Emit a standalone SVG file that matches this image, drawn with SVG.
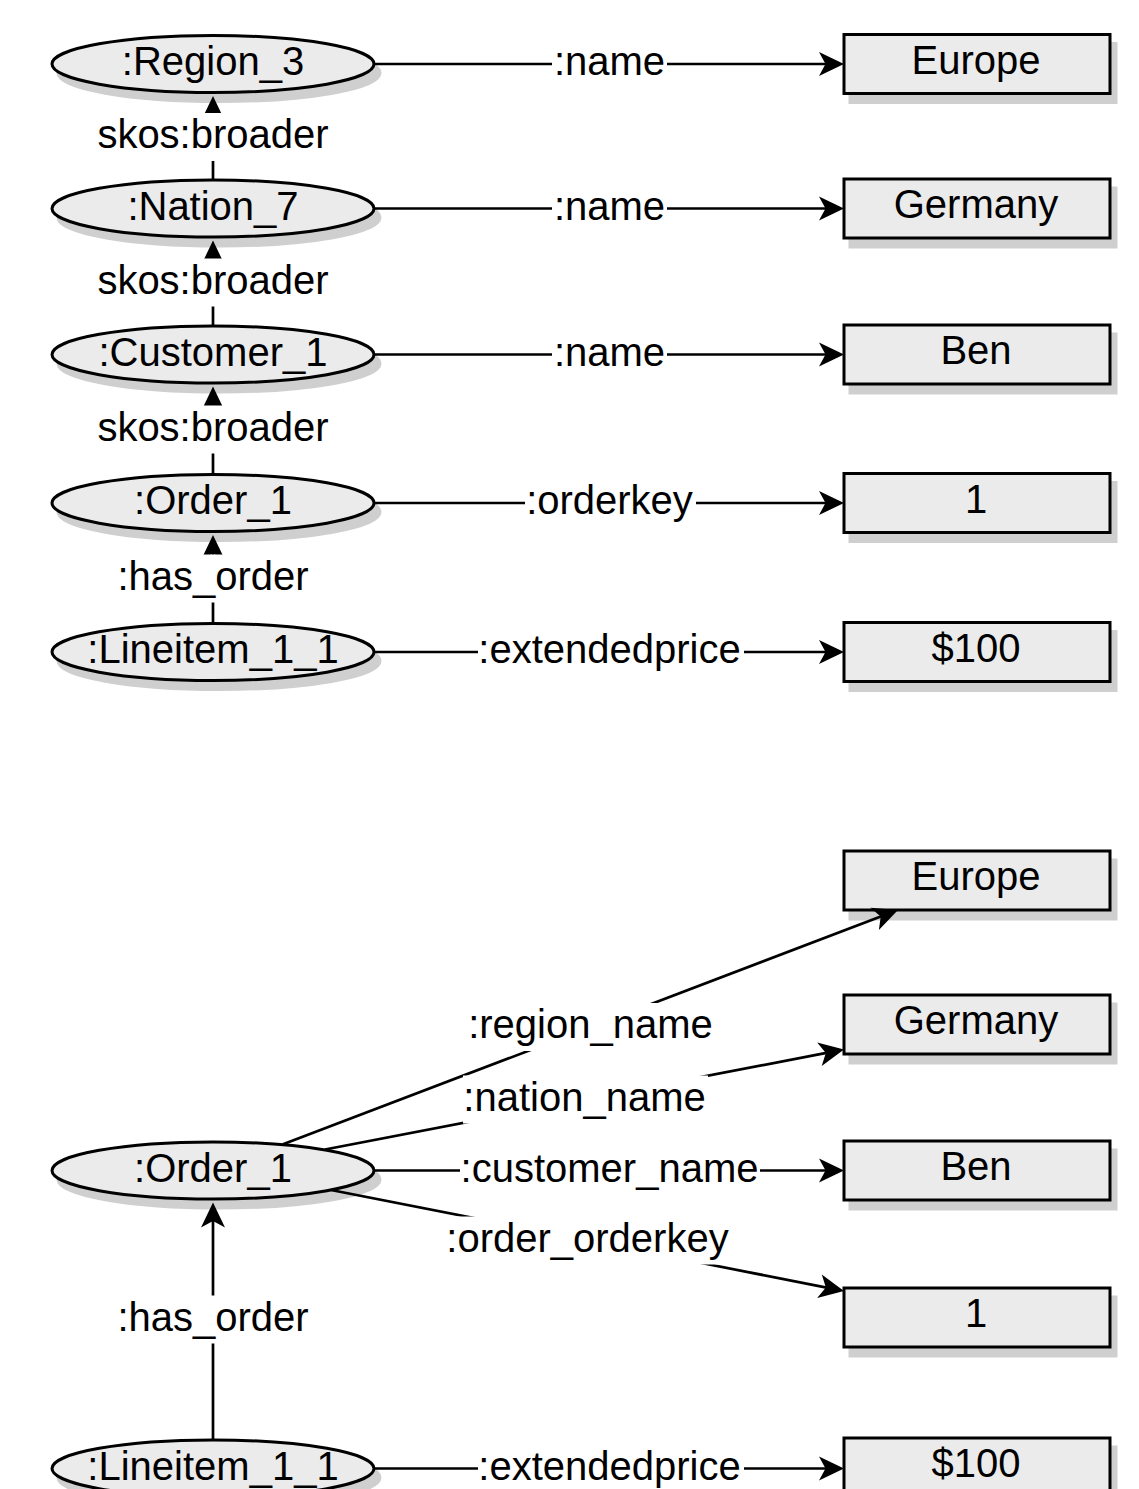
<svg xmlns="http://www.w3.org/2000/svg" width="1139" height="1489" viewBox="0 0 1139 1489">
<style>
text{font-family:"Liberation Sans",Arial,Helvetica,sans-serif;font-size:40px;fill:#000;text-anchor:middle}
.sh{fill:#cfcfcf;stroke:#cfcfcf;stroke-width:3}
.nd{fill:#ebebeb;stroke:#000;stroke-width:3}
.ed{fill:none;stroke:#000;stroke-width:2.7;marker-end:url(#arr)}
.bg{fill:#fff}
</style>
<defs>
<marker id="arr" viewBox="-28 -14 30 28" refX="-10" refY="0" markerWidth="30" markerHeight="28" markerUnits="userSpaceOnUse" orient="auto">
<path d="M0,0 L-25,-12 L-18.5,0 L-25,12 Z" fill="#000"/>
</marker>
</defs>

<!-- top half nodes -->
<g id="region3"><ellipse class="sh" cx="219" cy="73" rx="161" ry="28.5"/><ellipse class="nd" cx="213" cy="64" rx="161" ry="28.5"/><text x="213" y="75">:Region_3</text></g>
<g id="nation7"><ellipse class="sh" cx="219" cy="217.5" rx="161" ry="28.5"/><ellipse class="nd" cx="213" cy="208.5" rx="161" ry="28.5"/><text x="213" y="219.5">:Nation_7</text></g>
<g id="customer1"><ellipse class="sh" cx="219" cy="363.5" rx="161" ry="28.5"/><ellipse class="nd" cx="213" cy="354.5" rx="161" ry="28.5"/><text x="213" y="365.5">:Customer_1</text></g>
<g id="order1"><ellipse class="sh" cx="219" cy="512" rx="161" ry="28.5"/><ellipse class="nd" cx="213" cy="503" rx="161" ry="28.5"/><text x="213" y="514">:Order_1</text></g>
<g id="lineitem11"><ellipse class="sh" cx="219" cy="661" rx="161" ry="28.5"/><ellipse class="nd" cx="213" cy="652" rx="161" ry="28.5"/><text x="213" y="663">:Lineitem_1_1</text></g>

<g id="europe"><rect class="sh" x="850" y="43.5" width="266" height="59"/><rect class="nd" x="844" y="34.5" width="266" height="59"/><text x="976" y="73.5">Europe</text></g>
<g id="germany"><rect class="sh" x="850" y="188" width="266" height="59"/><rect class="nd" x="844" y="179" width="266" height="59"/><text x="976" y="218">Germany</text></g>
<g id="ben"><rect class="sh" x="850" y="334" width="266" height="59"/><rect class="nd" x="844" y="325" width="266" height="59"/><text x="976" y="364">Ben</text></g>
<g id="one"><rect class="sh" x="850" y="482.5" width="266" height="59"/><rect class="nd" x="844" y="473.5" width="266" height="59"/><text x="976" y="512.5">1</text></g>
<g id="price"><rect class="sh" x="850" y="631.5" width="266" height="59"/><rect class="nd" x="844" y="622.5" width="266" height="59"/><text x="976" y="661.5">$100</text></g>

<!-- bottom half nodes -->
<g id="order1b"><ellipse class="sh" cx="219" cy="1179.5" rx="161" ry="28.5"/><ellipse class="nd" cx="213" cy="1170.5" rx="161" ry="28.5"/><text x="213" y="1181.5">:Order_1</text></g>
<g id="lineitem11b"><ellipse class="sh" cx="219" cy="1477.5" rx="161" ry="28.5"/><ellipse class="nd" cx="213" cy="1468.5" rx="161" ry="28.5"/><text x="213" y="1479.5">:Lineitem_1_1</text></g>

<g id="europeb"><rect class="sh" x="850" y="860" width="266" height="59"/><rect class="nd" x="844" y="851" width="266" height="59"/><text x="976" y="890">Europe</text></g>
<g id="germanyb"><rect class="sh" x="850" y="1004" width="266" height="59"/><rect class="nd" x="844" y="995" width="266" height="59"/><text x="976" y="1034">Germany</text></g>
<g id="benb"><rect class="sh" x="850" y="1150" width="266" height="59"/><rect class="nd" x="844" y="1141" width="266" height="59"/><text x="976" y="1180">Ben</text></g>
<g id="oneb"><rect class="sh" x="850" y="1297" width="266" height="59"/><rect class="nd" x="844" y="1288" width="266" height="59"/><text x="976" y="1327">1</text></g>
<g id="priceb"><rect class="sh" x="850" y="1447" width="266" height="59"/><rect class="nd" x="844" y="1438" width="266" height="59"/><text x="976" y="1477">$100</text></g>

<g id="connectors">
<!-- top half horizontal -->
<line class="ed" x1="375" y1="64" x2="834" y2="64"/>
<rect class="bg" x="552" y="40" width="115" height="48"/><text x="609.5" y="75">:name</text>
<line class="ed" x1="375" y1="208.5" x2="834" y2="208.5"/>
<rect class="bg" x="552" y="184.5" width="115" height="48"/><text x="609.5" y="219.5">:name</text>
<line class="ed" x1="375" y1="354.5" x2="834" y2="354.5"/>
<rect class="bg" x="552" y="330.5" width="115" height="48"/><text x="609.5" y="365.5">:name</text>
<line class="ed" x1="375" y1="503" x2="834" y2="503"/>
<rect class="bg" x="525" y="479" width="171" height="48"/><text x="609.5" y="514">:orderkey</text>
<line class="ed" x1="375" y1="652" x2="834" y2="652"/>
<rect class="bg" x="478" y="628" width="266" height="48"/><text x="609.5" y="663">:extendedprice</text>

<!-- top half vertical -->
<line class="ed" x1="213" y1="180" x2="213" y2="106"/>
<rect class="bg" x="96" y="113" width="235" height="48"/><text x="213" y="148">skos:broader</text>
<line class="ed" x1="213" y1="326" x2="213" y2="250.5"/>
<rect class="bg" x="96" y="258.5" width="235" height="48"/><text x="213" y="293.5">skos:broader</text>
<line class="ed" x1="213" y1="474.5" x2="213" y2="396.5"/>
<rect class="bg" x="96" y="405.5" width="235" height="48"/><text x="213" y="440.5">skos:broader</text>
<line class="ed" x1="213" y1="623.5" x2="213" y2="545"/>
<rect class="bg" x="116" y="554.5" width="195" height="48"/><text x="213" y="589.5">:has_order</text>

<!-- bottom half -->
<line class="ed" x1="283" y1="1144.3" x2="888.65" y2="913.56"/>
<rect class="bg" x="468" y="1003" width="249" height="48"/><text x="590.5" y="1038">:region_name</text>
<line class="ed" x1="325" y1="1149.5" x2="834.18" y2="1051.39"/>
<rect class="bg" x="463" y="1075.5" width="245" height="48"/><text x="584.5" y="1110.5">:nation_name</text>
<line class="ed" x1="375" y1="1170.5" x2="834" y2="1170.5"/>
<rect class="bg" x="460" y="1146.5" width="300" height="48"/><text x="609.5" y="1181.5">:customer_name</text>
<line class="ed" x1="331" y1="1190" x2="834.19" y2="1289.07"/>
<rect class="bg" x="446" y="1216.5" width="284" height="48"/><text x="587.5" y="1251.5">:order_orderkey</text>
<line class="ed" x1="213" y1="1440" x2="213" y2="1212.5"/>
<rect class="bg" x="116" y="1295.5" width="195" height="48"/><text x="213" y="1330.5">:has_order</text>
<line class="ed" x1="375" y1="1468.5" x2="834" y2="1468.5"/>
<rect class="bg" x="478" y="1444.5" width="266" height="48"/><text x="609.5" y="1479.5">:extendedprice</text>
</g>
</svg>
